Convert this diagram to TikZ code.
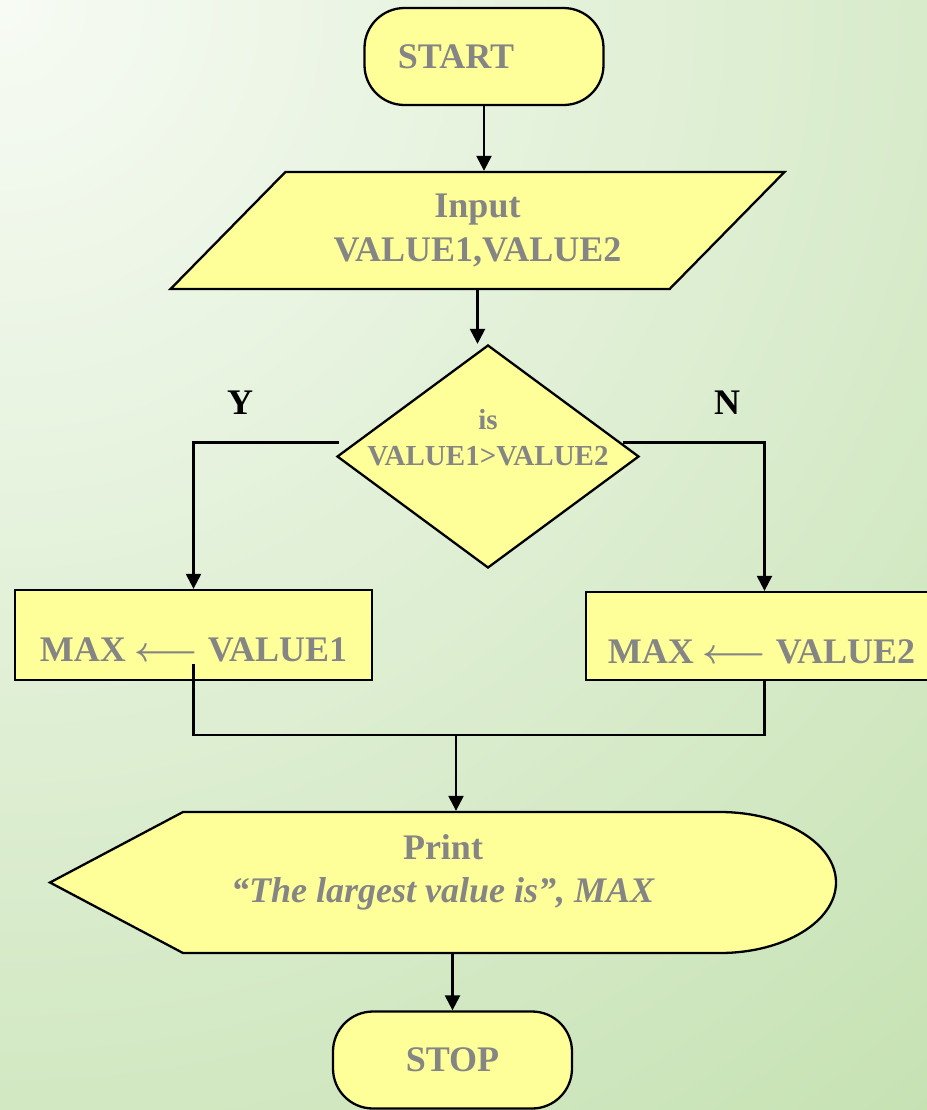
\documentclass[tikz,border=0pt]{standalone}
\usepackage{fontspec}
\setmainfont{Liberation Serif}
\usepackage{tikz}
\usepackage{xcolor}
\usetikzlibrary{arrows.meta, shapes.geometric, calc}
\definecolor{boxyellow}{HTML}{FFFF99}
\definecolor{textgray}{HTML}{858585}
\definecolor{bglight}{HTML}{F7FBF4}
\definecolor{bggreen}{HTML}{C6E2B3}

\begin{document}
\begin{tikzpicture}[
        x = 0.5pt, y = -0.5pt, % one unit per pixel, y downwards
        > = {Triangle[length=7.5pt, width=7.5pt]}, % arrow head style
        line width=1.15pt, % line style
        font=\fontsize{18}{21.6}\selectfont\bfseries
    ]
        \tikzstyle{terminal}=[
            draw = black,
            fill = boxyellow,
            text = textgray,
            rounded corners = 20pt,
            minimum width = 119.5pt,
            minimum height = 48.5pt,
        ]
        \tikzstyle{io}=[
            trapezium,
            trapezium left angle = 43.6,
            trapezium right angle = 136.4,
            trapezium stretches = true,
            draw = black,
            fill = boxyellow,
            text = textgray,
            align = center,
            minimum width = 307.5pt,
            minimum height = 58.5pt,
        ]
        \tikzstyle{decision}=[
            diamond,
            draw = black,
            fill = boxyellow,
            inner sep = 0pt,
            minimum width = 151pt,
            minimum height = 111.5pt,
        ]
        \tikzstyle{process}=[
            draw = black,
            fill = boxyellow,
            minimum width = 178.5pt,
            minimum height = 45pt,
        ]
        \tikzstyle{inside}=[text = textgray, align = center]
        \tikzstyle{branch}=[text = black]

        % background
        \begin{scope}
            \clip (0,0) rectangle (927,1110);
            \fill[bggreen] (0,0) rectangle (927,1110);
            \shade[inner color=bglight, outer color=bggreen] (0,0) circle (1450);
        \end{scope}
        \useasboundingbox (0,0) rectangle (927,1110);

        \node[terminal, label={[inside, xshift=-14pt]center:START}] (start) at (484,56.5) {};
        \node[io] (input) at (477.5,230.5) {Input\\VALUE1,VALUE2};
        \node[decision, label={[inside, yshift=9.5pt, font=\fontsize{14.5}{18}\selectfont\bfseries]center:is\\VALUE1>VALUE2}] (decide) at (488,456.5) {};
        \node[branch] (yes) at (240,403) {Y};
        \node[branch] (no) at (727,403) {N};
        \node[process, label={[inside, yshift=-7.25pt]center:MAX {\boldmath$\longleftarrow$} VALUE1}] (val1) at (193.5,635) {};
        \node[process, minimum height=44pt, label={[inside, xshift=-1.5pt, yshift=-8pt]center:MAX {\boldmath$\longleftarrow$} VALUE2}] (val2) at (764.5,636) {};

        % print shape
        \coordinate (printc) at (443,882.5);
        \draw[fill=boxyellow] ($(printc)+(-393,0)$) -- ($(printc)+(-260,-70.5)$)
            -- ($(printc)+(277,-70.5)$)
            arc[start angle=-90, end angle=90, x radius=116, y radius=70.5]
            -- ($(printc)+(-260,70.5)$) -- cycle;
        \node[inside, minimum width=393pt, minimum height=70.5pt,
            label={[inside, yshift=5pt]center:Print\\\textit{“The largest value is”, MAX}}] (print) at (printc) {};

        \node[terminal] (stop) at (452.5,1060) {STOP};

        \draw[->] (start) -- (start |- input.north);
        \draw[->] (input.south) -- (input.south |- decide.north);
        \draw[->] ($(decide.west)+(3,-14)$) -| (val1.north);
        \draw[->] ($(decide.east)+(-17,-14)$) -| (val2.north);
        \coordinate (merge) at (456,735);
        \draw ($(val1.south)+(0,-17)$) |- (merge) -| (val2.south);
        \draw[->] (merge) -- (merge |- print.north);
        \draw[->] (stop |- print.south) -- (stop);
    \end{tikzpicture}
\end{document}
